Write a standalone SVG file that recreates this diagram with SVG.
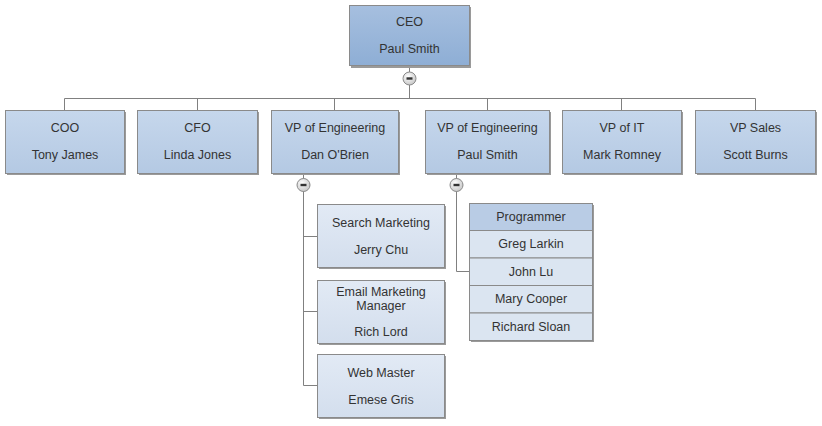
<svg xmlns="http://www.w3.org/2000/svg" width="822" height="426" viewBox="0 0 822 426">
<defs>
<linearGradient id="gL2" x1="0" y1="0" x2="0" y2="1"><stop offset="0" stop-color="#c6d7ec"/><stop offset="1" stop-color="#b4c9e3"/></linearGradient>
<linearGradient id="gCEO" x1="0" y1="0" x2="0" y2="1"><stop offset="0" stop-color="#a6bfdf"/><stop offset="1" stop-color="#8eaed5"/></linearGradient>
<linearGradient id="gSub" x1="0" y1="0" x2="0" y2="1"><stop offset="0" stop-color="#e2eaf5"/><stop offset="1" stop-color="#d3deed"/></linearGradient>
<radialGradient id="gBtn" cx="0.4" cy="0.35" r="0.7"><stop offset="0" stop-color="#ffffff"/><stop offset="1" stop-color="#c4c4c4"/></radialGradient>
<g id="btn"><circle r="6.5" fill="url(#gBtn)" stroke="#8a8a8a" stroke-width="1"/><rect x="-3" y="-1.2" width="6" height="2.4" fill="#333"/></g>
</defs>
<style>
.box{stroke:#8a8a8a;stroke-width:1}
.sh{fill:#9a9a9a}
.l2{fill:url(#gL2)}
.ceo{fill:url(#gCEO)}
.sub{fill:url(#gSub)}
.hdr{fill:#b9cce5}
.row{fill:#dbe5f1}
text{font-family:"Liberation Sans",Arial,sans-serif;font-size:12.5px;fill:#333;text-anchor:middle}
.conn{fill:none;stroke:#808080;stroke-width:1}
</style>
<rect width="822" height="426" fill="#ffffff"/>
<g id="connectors">
<path class="conn" d="M409.5 66V98.5M64.5 98.5H755.5M64.5 98.5V110.5M197.5 98.5V110.5M334.5 98.5V110.5M487.5 98.5V110.5M621.5 98.5V110.5M755.5 98.5V110.5"/>
<path class="conn" d="M303.5 173.5V385.5H317M303.5 236.5H317M303.5 311.5H317"/>
<path class="conn" d="M456.5 173.5V271.5H469"/>
</g>
<g id="ceo"><rect class="sh" x="351" y="7" width="120" height="61"/><rect class="box ceo" x="349.5" y="5.5" width="120" height="60"/><text x="409.5" y="26">CEO</text><text x="409.5" y="53">Paul Smith</text></g>
<g id="coo"><rect class="sh" x="7" y="112" width="119" height="63"/><rect class="box l2" x="5.5" y="110.5" width="119" height="63"/><text x="65" y="132">COO</text><text x="65" y="159">Tony James</text></g>
<g id="cfo"><rect class="sh" x="139" y="112" width="120" height="63"/><rect class="box l2" x="137.5" y="110.5" width="120" height="63"/><text x="197.5" y="132">CFO</text><text x="197.5" y="159">Linda Jones</text></g>
<g id="vpe1"><rect class="sh" x="273" y="112" width="127" height="63"/><rect class="box l2" x="271.5" y="110.5" width="127" height="63"/><text x="335" y="132">VP of Engineering</text><text x="335" y="159">Dan O'Brien</text></g>
<g id="vpe2"><rect class="sh" x="427" y="112" width="124" height="63"/><rect class="box l2" x="425.5" y="110.5" width="124" height="63"/><text x="487.5" y="132">VP of Engineering</text><text x="487.5" y="159">Paul Smith</text></g>
<g id="vpit"><rect class="sh" x="564" y="112" width="119" height="63"/><rect class="box l2" x="562.5" y="110.5" width="119" height="63"/><text x="622" y="132">VP of IT</text><text x="622" y="159">Mark Romney</text></g>
<g id="vpsales"><rect class="sh" x="697" y="112" width="120" height="63"/><rect class="box l2" x="695.5" y="110.5" width="120" height="63"/><text x="755.5" y="132">VP Sales</text><text x="755.5" y="159">Scott Burns</text></g>
<g id="search"><rect class="sh" x="319" y="206" width="127" height="63"/><rect class="box sub" x="317.5" y="204.5" width="127" height="63"/><text x="381" y="226.5">Search Marketing</text><text x="381" y="253.5">Jerry Chu</text></g>
<g id="email"><rect class="sh" x="319" y="282" width="127" height="63"/><rect class="box sub" x="317.5" y="280.5" width="127" height="63"/><text x="381" y="295.5">Email Marketing</text><text x="381" y="309.5">Manager</text><text x="381" y="335.5">Rich Lord</text></g>
<g id="webmaster"><rect class="sh" x="319" y="356" width="127" height="63"/><rect class="box sub" x="317.5" y="354.5" width="127" height="63"/><text x="381" y="376.5">Web Master</text><text x="381" y="403.5">Emese Gris</text></g>
<g id="programmer"><rect class="sh" x="471" y="205" width="123" height="137"/>
<rect class="box hdr" x="469.5" y="203.5" width="123" height="27"/>
<rect class="box row" x="469.5" y="230.5" width="123" height="27.5"/>
<rect class="box row" x="469.5" y="258" width="123" height="27.5"/>
<rect class="box row" x="469.5" y="285.5" width="123" height="27.5"/>
<rect class="box row" x="469.5" y="313" width="123" height="27.5"/>
<text x="531" y="221">Programmer</text><text x="531" y="248">Greg Larkin</text><text x="531" y="275.5">John Lu</text><text x="531" y="303">Mary Cooper</text><text x="531" y="330.5">Richard Sloan</text></g>
<g id="buttons"><use href="#btn" x="409.5" y="78.5"/><use href="#btn" x="303.5" y="185"/><use href="#btn" x="456.5" y="185"/></g>
</svg>
